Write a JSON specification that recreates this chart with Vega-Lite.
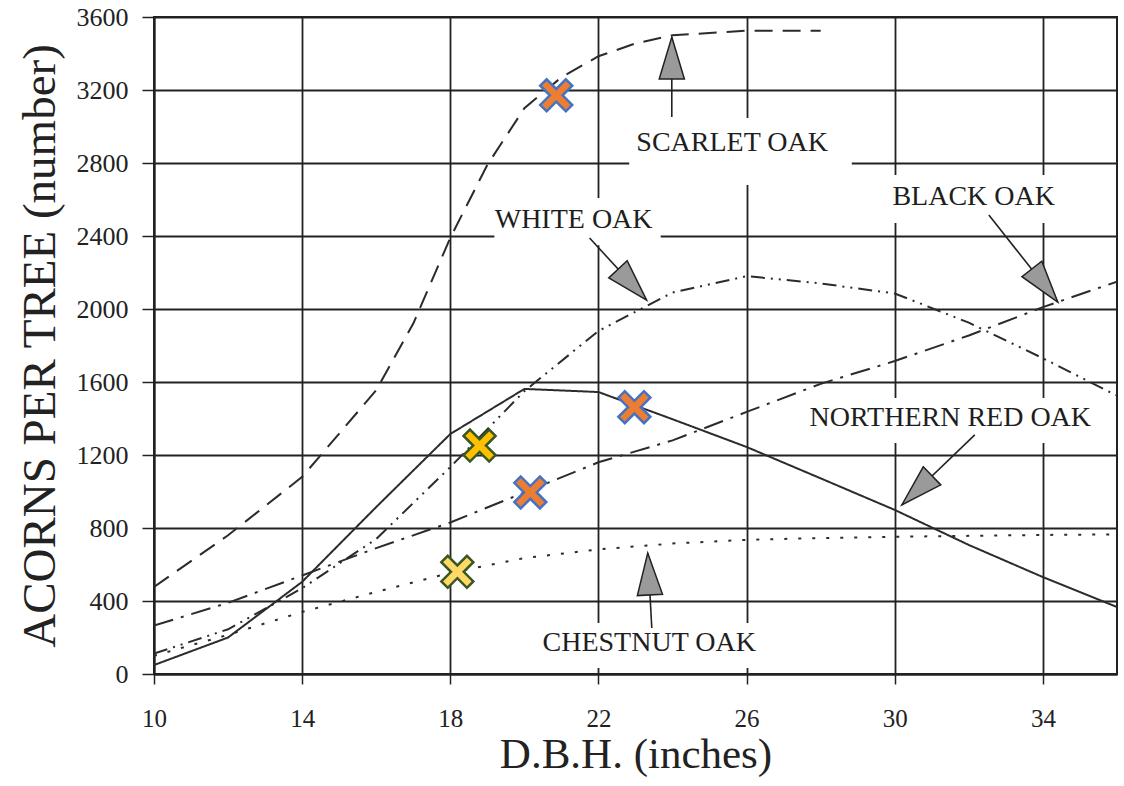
{
  "$schema": "https://vega.github.io/schema/vega-lite/v6.json",
  "width": 963,
  "height": 657,
  "autosize": "none",
  "padding": {"left": 154, "top": 17, "right": 7, "bottom": 112},
  "background": "white",
  "config": {
    "view": {"stroke": "#222222", "strokeWidth": 2},
    "font": "Liberation Serif",
    "axisX": {"grid": true, "gridColor": "#222222", "gridWidth": 1.8, "gridOpacity": 1,
      "domainColor": "#222222", "domainWidth": 2, "tickColor": "#222222", "tickWidth": 1.5, "tickSize": 10,
      "labelFont": "Liberation Serif", "labelFontSize": 25, "labelColor": "#222222", "labelPadding": 22, "labelFlush": false, "labelOverlap": false,
      "titleFont": "Liberation Serif", "titleFontSize": 43, "titleFontWeight": "normal", "titleColor": "#222222", "titlePadding": 2},
    "axisY": {"grid": true, "gridColor": "#222222", "gridWidth": 1.8, "gridOpacity": 1,
      "domainColor": "#222222", "domainWidth": 2, "tickColor": "#222222", "tickWidth": 1.5, "tickSize": 12,
      "labelFont": "Liberation Serif", "labelFontSize": 26, "labelColor": "#222222", "labelPadding": 14, "labelFlush": false, "labelOverlap": false,
      "titleFont": "Liberation Serif", "titleFontSize": 47, "titleFontWeight": "normal", "titleColor": "#222222", "titlePadding": 12}
  },
  "datasets": {
    "curves": [
      {"species": "Scarlet Oak", "dbh": 10, "acorns": 477},
      {"species": "Scarlet Oak", "dbh": 12, "acorns": 760},
      {"species": "Scarlet Oak", "dbh": 14, "acorns": 1080},
      {"species": "Scarlet Oak", "dbh": 16, "acorns": 1555},
      {"species": "Scarlet Oak", "dbh": 17, "acorns": 1920},
      {"species": "Scarlet Oak", "dbh": 18, "acorns": 2390},
      {"species": "Scarlet Oak", "dbh": 19, "acorns": 2790},
      {"species": "Scarlet Oak", "dbh": 20, "acorns": 3100},
      {"species": "Scarlet Oak", "dbh": 21, "acorns": 3270},
      {"species": "Scarlet Oak", "dbh": 22, "acorns": 3385},
      {"species": "Scarlet Oak", "dbh": 23, "acorns": 3455},
      {"species": "Scarlet Oak", "dbh": 24, "acorns": 3500},
      {"species": "Scarlet Oak", "dbh": 26, "acorns": 3525},
      {"species": "Scarlet Oak", "dbh": 28, "acorns": 3525},
      {"species": "White Oak", "dbh": 10, "acorns": 112},
      {"species": "White Oak", "dbh": 12, "acorns": 245},
      {"species": "White Oak", "dbh": 14, "acorns": 470},
      {"species": "White Oak", "dbh": 16, "acorns": 740},
      {"species": "White Oak", "dbh": 18, "acorns": 1134},
      {"species": "White Oak", "dbh": 20, "acorns": 1550},
      {"species": "White Oak", "dbh": 22, "acorns": 1880},
      {"species": "White Oak", "dbh": 24, "acorns": 2090},
      {"species": "White Oak", "dbh": 26, "acorns": 2180},
      {"species": "White Oak", "dbh": 28, "acorns": 2140},
      {"species": "White Oak", "dbh": 30, "acorns": 2085},
      {"species": "White Oak", "dbh": 32, "acorns": 1925},
      {"species": "White Oak", "dbh": 34, "acorns": 1730},
      {"species": "White Oak", "dbh": 36, "acorns": 1525},
      {"species": "Black Oak", "dbh": 10, "acorns": 265},
      {"species": "Black Oak", "dbh": 12, "acorns": 390},
      {"species": "Black Oak", "dbh": 14, "acorns": 540},
      {"species": "Black Oak", "dbh": 16, "acorns": 690},
      {"species": "Black Oak", "dbh": 18, "acorns": 830},
      {"species": "Black Oak", "dbh": 20, "acorns": 995},
      {"species": "Black Oak", "dbh": 22, "acorns": 1160},
      {"species": "Black Oak", "dbh": 24, "acorns": 1280},
      {"species": "Black Oak", "dbh": 26, "acorns": 1436},
      {"species": "Black Oak", "dbh": 28, "acorns": 1590},
      {"species": "Black Oak", "dbh": 30, "acorns": 1715},
      {"species": "Black Oak", "dbh": 32, "acorns": 1855},
      {"species": "Black Oak", "dbh": 34, "acorns": 2010},
      {"species": "Black Oak", "dbh": 36, "acorns": 2150},
      {"species": "Northern Red Oak", "dbh": 10, "acorns": 49},
      {"species": "Northern Red Oak", "dbh": 12, "acorns": 200},
      {"species": "Northern Red Oak", "dbh": 14, "acorns": 505},
      {"species": "Northern Red Oak", "dbh": 16, "acorns": 915},
      {"species": "Northern Red Oak", "dbh": 18, "acorns": 1315},
      {"species": "Northern Red Oak", "dbh": 20, "acorns": 1562},
      {"species": "Northern Red Oak", "dbh": 22, "acorns": 1545},
      {"species": "Northern Red Oak", "dbh": 24, "acorns": 1396},
      {"species": "Northern Red Oak", "dbh": 26, "acorns": 1244},
      {"species": "Northern Red Oak", "dbh": 28, "acorns": 1072},
      {"species": "Northern Red Oak", "dbh": 30, "acorns": 899},
      {"species": "Northern Red Oak", "dbh": 32, "acorns": 707},
      {"species": "Northern Red Oak", "dbh": 34, "acorns": 531},
      {"species": "Northern Red Oak", "dbh": 36, "acorns": 367},
      {"species": "Chestnut Oak", "dbh": 10, "acorns": 100},
      {"species": "Chestnut Oak", "dbh": 12, "acorns": 215},
      {"species": "Chestnut Oak", "dbh": 14, "acorns": 340},
      {"species": "Chestnut Oak", "dbh": 16, "acorns": 450},
      {"species": "Chestnut Oak", "dbh": 18, "acorns": 555},
      {"species": "Chestnut Oak", "dbh": 20, "acorns": 635},
      {"species": "Chestnut Oak", "dbh": 22, "acorns": 683},
      {"species": "Chestnut Oak", "dbh": 24, "acorns": 715},
      {"species": "Chestnut Oak", "dbh": 26, "acorns": 735},
      {"species": "Chestnut Oak", "dbh": 28, "acorns": 745},
      {"species": "Chestnut Oak", "dbh": 30, "acorns": 752},
      {"species": "Chestnut Oak", "dbh": 32, "acorns": 757},
      {"species": "Chestnut Oak", "dbh": 34, "acorns": 762},
      {"species": "Chestnut Oak", "dbh": 36, "acorns": 765}
    ],
    "markers": [
      {"series": "series 1", "dbh": 20.86, "acorns": 3171},
      {"series": "series 1", "dbh": 22.97, "acorns": 1462},
      {"series": "series 1", "dbh": 20.16, "acorns": 995},
      {"series": "series 2", "dbh": 18.79, "acorns": 1252},
      {"series": "series 3", "dbh": 18.19, "acorns": 560}
    ],
    "labels": [
      {"label": "SCARLET OAK", "dbh": 25.61, "acorns": 2909, "bx1": 22.83, "bx2": 28.84, "by1": 2679, "by2": 3046},
      {"label": "WHITE OAK", "dbh": 21.33, "acorns": 2487, "bx1": 19.19, "bx2": 23.68, "by1": 2350, "by2": 2608},
      {"label": "BLACK OAK", "dbh": 32.13, "acorns": 2613, "bx1": 29.6, "bx2": 34.73, "by1": 2471, "by2": 2734},
      {"label": "NORTHERN RED OAK", "dbh": 31.5, "acorns": 1403, "bx1": 27.57, "bx2": 35.4, "by1": 1266, "by2": 1512},
      {"label": "CHESTNUT OAK", "dbh": 23.37, "acorns": 170, "bx1": 20.4, "bx2": 26.34, "by1": 33, "by2": 279}
    ],
    "arrows": [
      {"name": "Scarlet Oak", "tx": 23.98, "ty": 3052, "hx": 23.98, "hy": 3490},
      {"name": "White Oak", "tx": 21.76, "ty": 2389, "hx": 23.3, "hy": 2049},
      {"name": "Black Oak", "tx": 32.54, "ty": 2515, "hx": 34.4, "hy": 2038},
      {"name": "Northern Red Oak", "tx": 32.16, "ty": 1310, "hx": 30.19, "hy": 926},
      {"name": "Chestnut Oak", "tx": 23.44, "ty": 252, "hx": 23.33, "hy": 663}
    ]
  },
  "layer": [
    {
      "data": {"name": "labels"},
      "mark": {"type": "rect", "fill": "white", "stroke": null},
      "encoding": {
        "x": {"field": "bx1", "type": "quantitative", "title": "D.B.H. (inches)", "scale": {"domain": [10, 36], "nice": false, "zero": false}, "axis": {"values": [10, 14, 18, 22, 26, 30, 34], "format": "d"}},
        "x2": {"field": "bx2"},
        "y": {"field": "by1", "type": "quantitative", "title": "ACORNS PER TREE (number)", "scale": {"domain": [0, 3600], "nice": false, "zero": true}, "axis": {"values": [0, 400, 800, 1200, 1600, 2000, 2400, 2800, 3200, 3600], "format": "d"}},
        "y2": {"field": "by2"}
      }
    },
    {
      "data": {"name": "curves"},
      "mark": {"type": "line", "strokeWidth": 2, "color": "#2b2b2b", "clip": true},
      "encoding": {
        "x": {"field": "dbh", "type": "quantitative", "title": "D.B.H. (inches)", "axis": {"values": [10, 14, 18, 22, 26, 30, 34], "format": "d"}},
        "y": {"field": "acorns", "type": "quantitative", "title": "ACORNS PER TREE (number)", "axis": {"values": [0, 400, 800, 1200, 1600, 2000, 2400, 2800, 3200, 3600], "format": "d"}},
        "strokeDash": {"field": "species", "type": "nominal",
          "scale": {"domain": ["Scarlet Oak", "White Oak", "Black Oak", "Northern Red Oak", "Chestnut Oak"],
            "range": [[18, 10], [14, 6, 2, 6, 2, 6], [20, 8, 3, 8], [1, 0], [3, 11]]},
          "legend": null}
      }
    },
    {
      "data": {"name": "arrows"},
      "mark": {"type": "rule", "color": "#222222", "strokeWidth": 1.6},
      "encoding": {
        "x": {"field": "tx", "type": "quantitative", "title": "D.B.H. (inches)", "axis": {"values": [10, 14, 18, 22, 26, 30, 34], "format": "d"}},
        "y": {"field": "ty", "type": "quantitative", "title": "ACORNS PER TREE (number)", "axis": {"values": [0, 400, 800, 1200, 1600, 2000, 2400, 2800, 3200, 3600], "format": "d"}},
        "x2": {"field": "hx"},
        "y2": {"field": "hy"}
      }
    },
    {
      "data": {"name": "arrows"},
      "transform": [{"filter": "datum.name === 'Scarlet Oak'"}],
      "mark": {"type": "point", "shape": "M0,0L0.3,1L-0.3,1Z", "size": 7056, "filled": true, "fill": "#9a9a9a", "stroke": "#222222", "strokeWidth": 1.5, "opacity": 1, "angle": 0},
      "encoding": {"x": {"field": "hx", "type": "quantitative", "title": "D.B.H. (inches)", "axis": {"values": [10, 14, 18, 22, 26, 30, 34], "format": "d"}}, "y": {"field": "hy", "type": "quantitative", "title": "ACORNS PER TREE (number)", "axis": {"values": [0, 400, 800, 1200, 1600, 2000, 2400, 2800, 3200, 3600], "format": "d"}}}
    },
    {
      "data": {"name": "arrows"},
      "transform": [{"filter": "datum.name === 'White Oak'"}],
      "mark": {"type": "point", "shape": "M0,0L0.3,1L-0.3,1Z", "size": 7056, "filled": true, "fill": "#9a9a9a", "stroke": "#222222", "strokeWidth": 1.5, "opacity": 1, "angle": 137},
      "encoding": {"x": {"field": "hx", "type": "quantitative", "title": "D.B.H. (inches)", "axis": {"values": [10, 14, 18, 22, 26, 30, 34], "format": "d"}}, "y": {"field": "hy", "type": "quantitative", "title": "ACORNS PER TREE (number)", "axis": {"values": [0, 400, 800, 1200, 1600, 2000, 2400, 2800, 3200, 3600], "format": "d"}}}
    },
    {
      "data": {"name": "arrows"},
      "transform": [{"filter": "datum.name === 'Black Oak'"}],
      "mark": {"type": "point", "shape": "M0,0L0.3,1L-0.3,1Z", "size": 7056, "filled": true, "fill": "#9a9a9a", "stroke": "#222222", "strokeWidth": 1.5, "opacity": 1, "angle": 142},
      "encoding": {"x": {"field": "hx", "type": "quantitative", "title": "D.B.H. (inches)", "axis": {"values": [10, 14, 18, 22, 26, 30, 34], "format": "d"}}, "y": {"field": "hy", "type": "quantitative", "title": "ACORNS PER TREE (number)", "axis": {"values": [0, 400, 800, 1200, 1600, 2000, 2400, 2800, 3200, 3600], "format": "d"}}}
    },
    {
      "data": {"name": "arrows"},
      "transform": [{"filter": "datum.name === 'Northern Red Oak'"}],
      "mark": {"type": "point", "shape": "M0,0L0.3,1L-0.3,1Z", "size": 7056, "filled": true, "fill": "#9a9a9a", "stroke": "#222222", "strokeWidth": 1.5, "opacity": 1, "angle": 226},
      "encoding": {"x": {"field": "hx", "type": "quantitative", "title": "D.B.H. (inches)", "axis": {"values": [10, 14, 18, 22, 26, 30, 34], "format": "d"}}, "y": {"field": "hy", "type": "quantitative", "title": "ACORNS PER TREE (number)", "axis": {"values": [0, 400, 800, 1200, 1600, 2000, 2400, 2800, 3200, 3600], "format": "d"}}}
    },
    {
      "data": {"name": "arrows"},
      "transform": [{"filter": "datum.name === 'Chestnut Oak'"}],
      "mark": {"type": "point", "shape": "M0,0L0.3,1L-0.3,1Z", "size": 7056, "filled": true, "fill": "#9a9a9a", "stroke": "#222222", "strokeWidth": 1.5, "opacity": 1, "angle": 357},
      "encoding": {"x": {"field": "hx", "type": "quantitative", "title": "D.B.H. (inches)", "axis": {"values": [10, 14, 18, 22, 26, 30, 34], "format": "d"}}, "y": {"field": "hy", "type": "quantitative", "title": "ACORNS PER TREE (number)", "axis": {"values": [0, 400, 800, 1200, 1600, 2000, 2400, 2800, 3200, 3600], "format": "d"}}}
    },
    {
      "data": {"name": "labels"},
      "mark": {"type": "text", "font": "Liberation Serif", "fontSize": 28, "color": "#1e1e1e", "align": "center", "baseline": "middle"},
      "encoding": {
        "x": {"field": "dbh", "type": "quantitative", "title": "D.B.H. (inches)", "axis": {"values": [10, 14, 18, 22, 26, 30, 34], "format": "d"}},
        "y": {"field": "acorns", "type": "quantitative", "title": "ACORNS PER TREE (number)", "axis": {"values": [0, 400, 800, 1200, 1600, 2000, 2400, 2800, 3200, 3600], "format": "d"}},
        "text": {"field": "label"}
      }
    },
    {
      "data": {"name": "markers"},
      "mark": {"type": "point", "shape": "M-1,-0.6L-0.6,-1L0,-0.4L0.6,-1L1,-0.6L0.4,0L1,0.6L0.6,1L0,0.4L-0.6,1L-1,0.6L-0.4,0Z", "size": 1024, "filled": true, "strokeWidth": 2.5, "opacity": 1},
      "encoding": {
        "x": {"field": "dbh", "type": "quantitative", "title": "D.B.H. (inches)", "axis": {"values": [10, 14, 18, 22, 26, 30, 34], "format": "d"}},
        "y": {"field": "acorns", "type": "quantitative", "title": "ACORNS PER TREE (number)", "axis": {"values": [0, 400, 800, 1200, 1600, 2000, 2400, 2800, 3200, 3600], "format": "d"}},
        "fill": {"field": "series", "type": "nominal", "scale": {"domain": ["series 1", "series 2", "series 3"], "range": ["#ED7D31", "#FFC000", "#FFD966"]}, "legend": null},
        "stroke": {"field": "series", "type": "nominal", "scale": {"domain": ["series 1", "series 2", "series 3"], "range": ["#4472C4", "#385723", "#385723"]}, "legend": null}
      }
    }
  ]
}
